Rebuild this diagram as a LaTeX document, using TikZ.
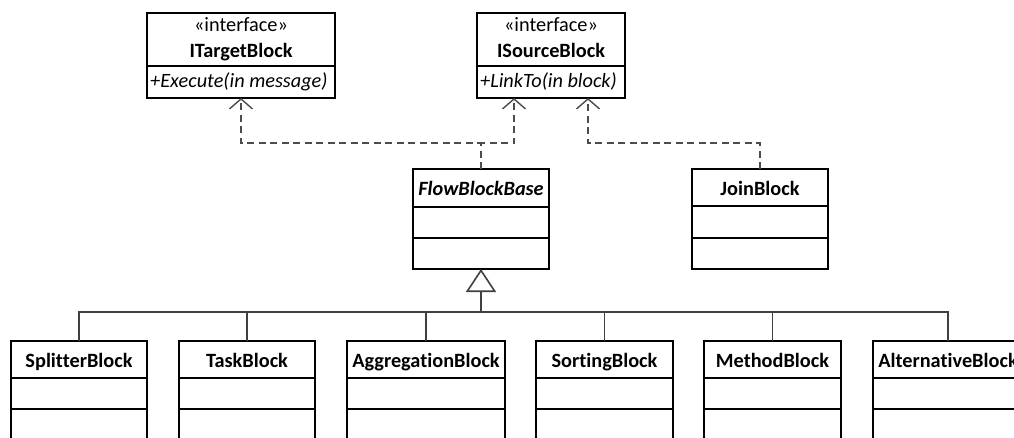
\documentclass[tikz,border=0pt]{standalone}
\usepackage{fontspec}
\setmainfont{Carlito}[Ligatures=NoCommon]
\usetikzlibrary{arrows.meta,calc}

\tikzset{
  classbox/.style={draw=black, line width=1.8pt, inner sep=0pt, outer sep=0pt, anchor=north west},
  divider/.style={draw=black, line width=1.6pt},
  title/.style={font=\fontsize{20.3}{24}\selectfont\bfseries, anchor=base, inner sep=0pt},
  stereo/.style={font=\fontsize{20.3}{24}\selectfont, anchor=base, inner sep=0pt},
  oper/.style={font=\fontsize{20.3}{24}\selectfont\itshape, anchor=base west, inner sep=0pt},
  realize/.style={draw=black!70, line width=1.5pt, dash pattern=on 7pt off 4.5pt,
    -{Straight Barb[length=10pt, width=23pt, line width=1.4pt]}},
  tree/.style={draw=black!75, line width=1.4pt},
}

% class box: name, left, top, width, height
\newcommand\umlbox[5]{%
  \node[classbox, minimum width=#4pt, minimum height=#5pt] (#1) at (#2,#3) {};}

\begin{document}
\begin{tikzpicture}[x=1pt,y=-1pt]
\clip (0,0) rectangle (1014,437);
\fill[white] (0,0) rectangle (1014,437);

% interfaces
\umlbox{itarget}{147}{13}{188}{85}
\draw[divider] (147,66) -- (335,66);
\node[stereo] (itst) at (241,31) {«interface»};
\node[title]  (itnm) at (241,57) {ITargetBlock};
\node[oper]   (itop) at (150,87) {+Execute(in message)};

\umlbox{isource}{477}{13}{148}{85}
\draw[divider] (477,66) -- (625,66);
\node[stereo] (isst) at (551,31) {«interface»};
\node[title]  (isnm) at (551,57) {ISourceBlock};
\node[oper]   (isop) at (480,87) {+LinkTo(in block)};

% base class and join block
\umlbox{flow}{413}{169}{136}{100}
\draw[divider] (413,207) -- (549,207);
\draw[divider] (413,238) -- (549,238);
\node[title, font=\fontsize{20.3}{24}\selectfont\bfseries\itshape] (flownm) at (481,195) {FlowBlockBase};

\umlbox{join}{692}{169}{136}{100}
\draw[divider] (692,206) -- (828,206);
\draw[divider] (692,238) -- (828,238);
\node[title] (joinnm) at (760,195) {JoinBlock};

% derived blocks
\foreach \nm/\lbl/\x/\w in {split/SplitterBlock/11/136, task/TaskBlock/179/136,
    aggr/AggregationBlock/347/158, sort/SortingBlock/536/137,
    meth/MethodBlock/704/137, alt/AlternativeBlock/873/150}{
  \umlbox{\nm}{\x}{341}{\w}{130}
  \draw[divider] (\x,378) -- ($(\x,378)+(\w,0)$);
  \draw[divider] (\x,409) -- ($(\x,409)+(\w,0)$);
  \node[title] (\nm-nm) at ($(\x,367)+(\w/2,0)$) {\lbl};
}

% realization of the interfaces
\coordinate (jct) at (481,143);
\coordinate (srcL) at ($(isource.south)+(-37,0)$);
\coordinate (srcR) at ($(isource.south)+(37,0)$);
\draw[realize] (flow.north) -- (jct) -| (itarget.south);
\draw[realize] (flow.north) -- (jct) -| (srcL);
\draw[realize] (join.north) |- (jct -| srcR) -- (srcR);

% inheritance tree
\coordinate (bus) at (481,312);
\foreach \nm in {split,task,aggr,sort,meth,alt}{
  \draw[tree] (\nm.north) |- (bus);
}
\draw[tree, -{Triangle[open, length=23pt, width=30pt, line width=1.6pt, fill=white]}] (bus) -- (flow.south);
\end{tikzpicture}
\end{document}
